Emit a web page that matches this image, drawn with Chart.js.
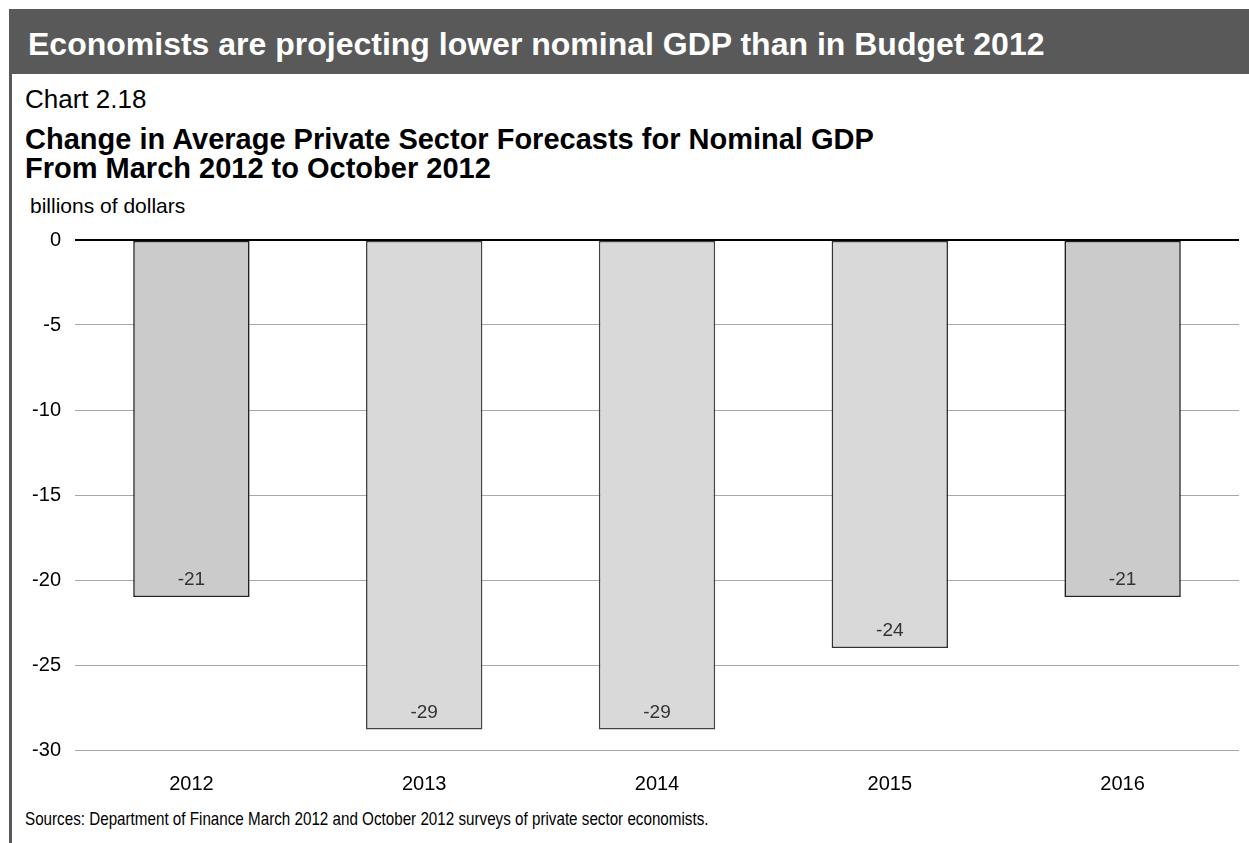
<!DOCTYPE html>
<html>
<head>
<meta charset="utf-8">
<script src="https://cdn.jsdelivr.net/npm/chart.js@4.4.1/dist/chart.umd.min.js"></script>
<style>
body{margin:0;background:#fff;width:1249px;height:843px;overflow:hidden;position:relative;font-family:"Liberation Sans",Arial,sans-serif;}
.t{position:absolute;line-height:1;white-space:nowrap;}
#head{position:absolute;left:9px;top:9px;width:1240px;height:65px;background:#595959;}
#leftbar{position:absolute;left:9px;top:74px;width:3px;height:769px;background:#595959;}
#chartbox{position:absolute;left:0;top:214px;}
#src{transform:scaleX(0.8);transform-origin:0 0;}
</style>
</head>
<body>
<div id="head"></div>
<div id="leftbar"></div>
<div class="t" style="left:28px;top:28px;font-size:32px;font-weight:bold;color:#fff;">Economists are projecting lower nominal GDP than in Budget 2012</div>
<div class="t" style="left:25px;top:86px;font-size:26px;color:#000;">Chart 2.18</div>
<div class="t" style="left:25px;top:125px;font-size:29px;font-weight:bold;color:#000;">Change in Average Private Sector Forecasts for Nominal GDP</div>
<div class="t" style="left:25px;top:154px;font-size:29px;font-weight:bold;color:#000;">From March 2012 to October 2012</div>
<div class="t" style="left:30px;top:195px;font-size:21px;color:#000;">billions of dollars</div>
<div class="t" id="src" style="left:25px;top:809px;font-size:19px;color:#000;">Sources: Department of Finance March 2012 and October 2012 surveys of private sector economists.</div>
<div id="chartbox"><canvas id="myChart" width="1249" height="596"></canvas></div>
<script>
// chart data
const years = ["2012", "2013", "2014", "2015", "2016"];
const changeGDP = [-21, -28.8, -28.8, -24, -21];
const barColors = ["#cbcbcb", "#d9d9d9", "#d9d9d9", "#d9d9d9", "#cbcbcb"];
const yTicks = [0, -5, -10, -15, -20, -25, -30];

// draws the value labels near the bottom of each bar
const valueLabels = {
    id: "valueLabels",
    afterDatasetsDraw(chart) {
        const ctx = chart.ctx;
        const meta = chart.getDatasetMeta(0);
        ctx.save();
        ctx.font = "19px 'Liberation Sans', Arial, sans-serif";
        ctx.fillStyle = "#333";
        ctx.textAlign = "center";
        ctx.textBaseline = "alphabetic";
        meta.data.forEach((bar, i) => {
            ctx.fillText(Math.round(changeGDP[i]), bar.x, bar.y - 12);
        });
        ctx.restore();
    }
};

var mychart = document.getElementById("myChart").getContext("2d");
var result = new Chart(mychart, {
    type: "bar",
    data: {
        labels: years,
        datasets: [{
            data: changeGDP,
            backgroundColor: barColors,
            borderColor: ["#222", "#444", "#444", "#333", "#222"],
            borderWidth: 1.6,
            borderSkipped: false,
            barPercentage: 0.5,
            categoryPercentage: 1
        }]
    },
    options: {
        responsive: false,
        animation: false,
        layout: { padding: { top: 0, right: 10, left: 0, bottom: 0 } },
        plugins: { legend: { display: false }, tooltip: { enabled: false } },
        scales: {
            x: {
                grid: { display: false, drawTicks: false },
                border: { display: false },
                ticks: { color: "#000", font: { size: 20, family: "'Liberation Sans', Arial" }, padding: 22 },
                afterFit(axis) { axis.height = 60; }
            },
            y: {
                min: Math.min(...yTicks),
                max: Math.max(...yTicks),
                afterBuildTicks(axis) { axis.ticks = yTicks.map(v => ({ value: v })); },
                grid: {
                    drawTicks: false,
                    color: c => c.tick && c.tick.value === 0 ? "#000" : "#a8a8a8",
                    lineWidth: c => c.tick && c.tick.value === 0 ? 2 : 1
                },
                border: { display: false },
                ticks: { color: "#000", font: { size: 20, family: "'Liberation Sans', Arial" }, padding: 14 },
                afterFit(axis) { axis.width = 75; }
            }
        }
    },
    plugins: [valueLabels]
});
</script>
</body>
</html>
